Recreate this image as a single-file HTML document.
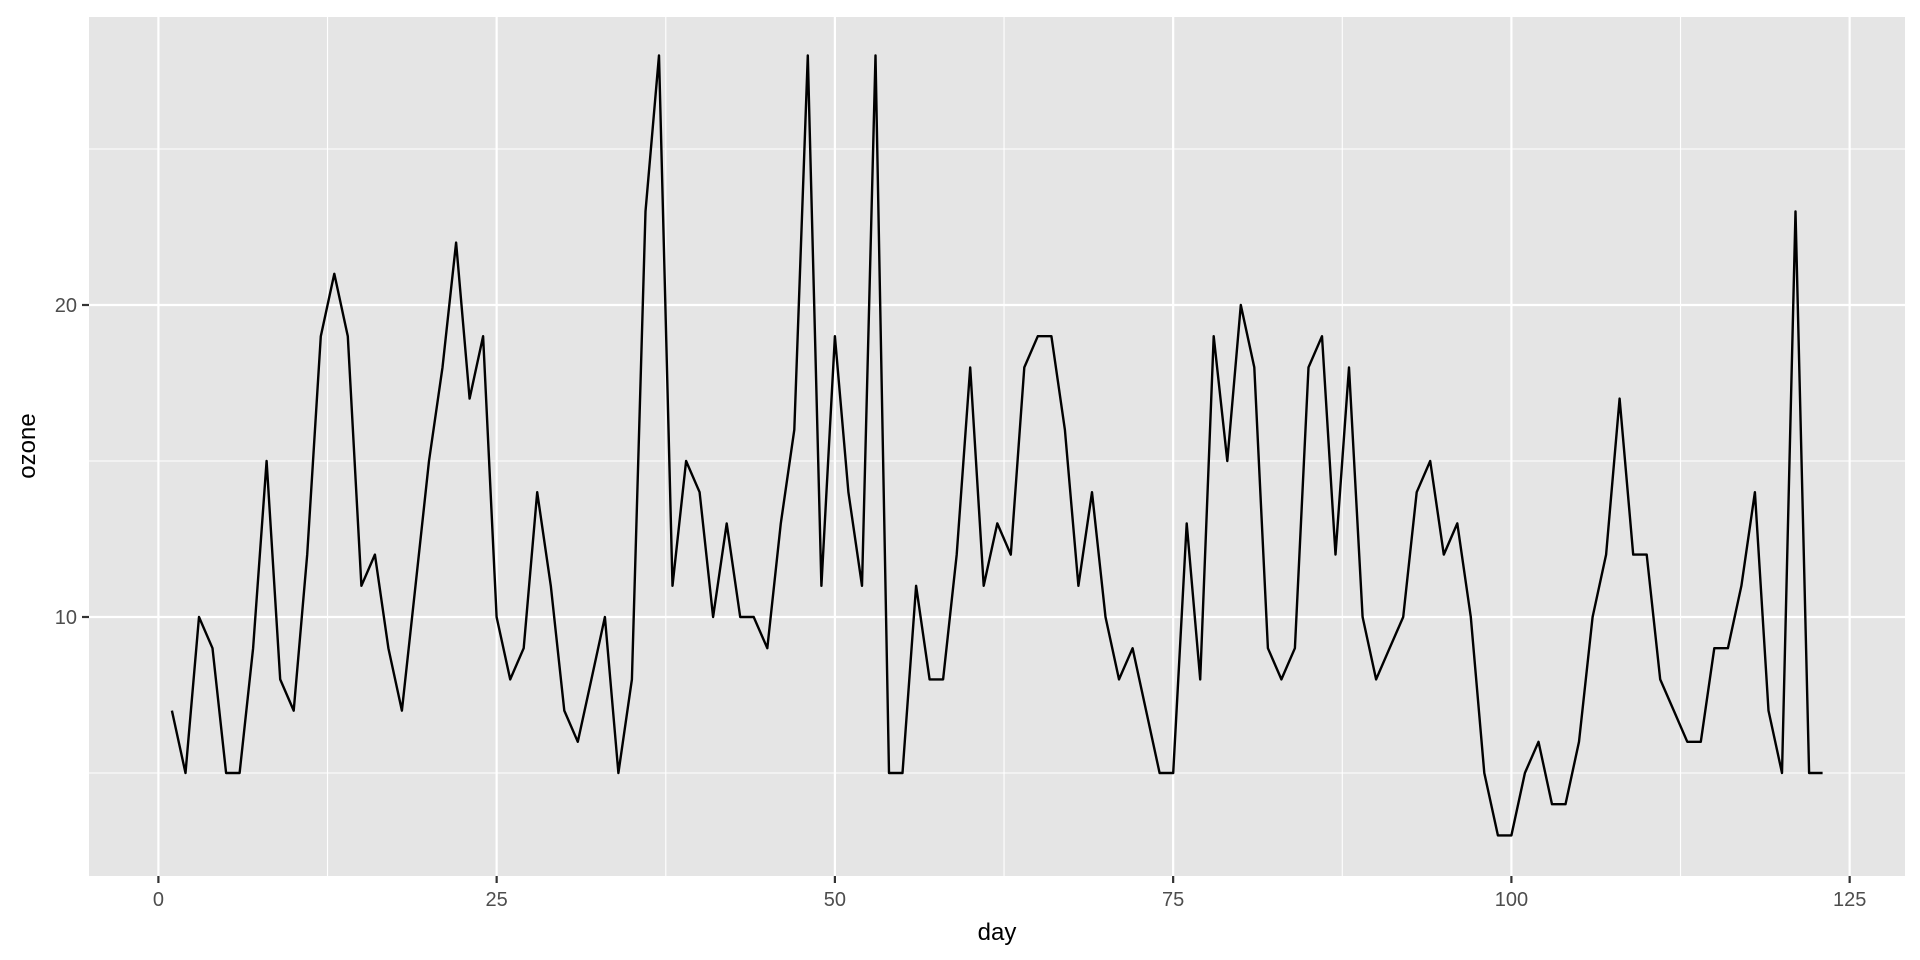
<!DOCTYPE html>
<html><head><meta charset="utf-8"><style>
html,body{margin:0;padding:0;background:#fff;}
svg{display:block;font-family:"Liberation Sans",Arial,sans-serif;}
</style></head><body>
<svg id="s" width="1920" height="960" viewBox="0 0 1920 960" xmlns="http://www.w3.org/2000/svg">
<rect x="0" y="0" width="1920" height="960" fill="#fff"/>
<rect x="89" y="17" width="1816" height="859" fill="#e5e5e5"/>
<g id="grid"></g>
<polyline id="line" fill="none" stroke="#000" stroke-width="2.4" stroke-linejoin="round"/>
<g id="ticks" fill="#4d4d4d" font-size="20"></g>
<text x="997" y="940" font-size="24" text-anchor="middle" fill="#000">day</text>
<text transform="translate(35,446) rotate(-90)" font-size="24" text-anchor="middle" fill="#000">ozone</text>
</svg>
<script>
var d=[7,5,10,9,5,5,9,15,8,7,12,19,21,19,11,12,9,7,11,15,18,22,17,19,10,8,9,14,11,7,6,8,10,5,8,23,28,11,15,14,10,13,10,10,9,13,16,28,11,19,14,11,28,5,5,11,8,8,12,18,11,13,12,18,19,19,16,11,14,10,8,9,7,5,5,13,8,19,15,20,18,9,8,9,18,19,12,18,10,8,9,10,14,15,12,13,10,5,3,3,5,6,4,4,6,10,12,17,12,12,8,7,6,6,9,9,11,14,7,5,23,5,5];
function X(v){return 158.4+13.53*v;}
function Y(v){return 617-(v-10)*31.2;}
var ns="http://www.w3.org/2000/svg",g=document.getElementById('grid'),t=document.getElementById('ticks');
function ln(x1,y1,x2,y2,w,c,p){var l=document.createElementNS(ns,'line');l.setAttribute('x1',x1);l.setAttribute('y1',y1);l.setAttribute('x2',x2);l.setAttribute('y2',y2);l.setAttribute('stroke',c);l.setAttribute('stroke-width',w);p.appendChild(l);}
function tx(x,y,s,a){var e=document.createElementNS(ns,'text');e.setAttribute('x',x);e.setAttribute('y',y);e.setAttribute('text-anchor',a);e.textContent=s;t.appendChild(e);}
[12.5,37.5,62.5,87.5,112.5].forEach(function(v){ln(X(v),17,X(v),876,1.1,'#fff',g);});
[5,15,25].forEach(function(v){ln(89,Y(v),1905,Y(v),1.1,'#fff',g);});
[0,25,50,75,100,125].forEach(function(v){ln(X(v),17,X(v),876,2.2,'#fff',g);ln(X(v),876,X(v),883,2.2,'#333',t);tx(X(v),906,String(v),'middle');});
[10,20].forEach(function(v){ln(89,Y(v),1905,Y(v),2.2,'#fff',g);ln(82,Y(v),89,Y(v),2.2,'#333',t);tx(77,Y(v)+7,String(v),'end');});
var p=d.map(function(v,i){return X(i+1).toFixed(1)+','+Y(v).toFixed(1);}).join(' ');
document.getElementById('line').setAttribute('points',p);
</script>
</body></html>
